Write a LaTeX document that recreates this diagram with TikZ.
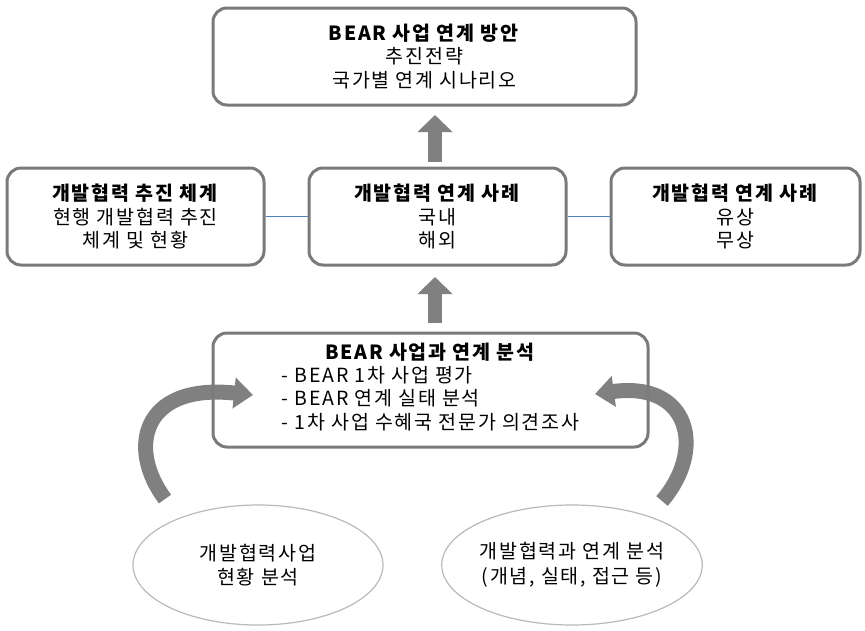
\documentclass[tikz,border=0pt]{standalone}
\usepackage{fontspec}
\setmainfont{Noto Sans CJK KR}[LetterSpace=9]
\usetikzlibrary{arrows.meta,shapes.geometric}
\definecolor{boxgray}{RGB}{122,122,122}
\definecolor{arrgray}{RGB}{128,128,128}
\definecolor{ellgray}{RGB}{185,185,185}
\definecolor{linkblue}{RGB}{79,129,189}
\tikzset{
  rbox/.style={draw=boxgray, line width=3pt, rounded corners=14pt, align=center,
    inner sep=0pt, font=\fontsize{19.5}{23.5}\selectfont},
  ebox/.style={draw=ellgray, line width=1.2pt, ellipse, align=center, inner sep=0pt,
    font=\fontsize{19.5}{24.5}\selectfont},
  link/.style={draw=linkblue, line width=1pt},
  blockarrow/.style={draw=arrgray, line width=14pt,
    -{Triangle[length=17pt,width=34pt]}},
  curvearrow/.style={draw=arrgray, line width=15pt,
    -{Triangle[length=19pt,width=30pt]}},
}
\begin{document}
\begin{tikzpicture}[x=1pt,y=-1pt]
\useasboundingbox (0,0) rectangle (865,630);
% curved arrows (behind the box border)
\coordinate (la0) at (165,499);
\coordinate (la1) at (253,395);
\coordinate (ra0) at (662,501);
\coordinate (ra1) at (595,394);
\draw[curvearrow] (la0) .. controls (128,450) and (140,383) .. (la1);
\draw[curvearrow] (ra0) .. controls (706,450) and (690,381) .. (ra1);
% boxes
\node[rbox, minimum width=423pt, minimum height=97pt] (top) at (424.5,56.5)
  {\textbf{BEAR 사업 연계 방안}\\추진전략\\국가별 연계 시나리오};
\node[rbox, minimum width=257pt, minimum height=97pt] (lm) at (135.5,216.5)
  {\textbf{개발협력 추진 체계}\\현행 개발협력 추진\\체계 및 현황};
\node[rbox, minimum width=257pt, minimum height=97pt] (cm) at (437.5,216.5)
  {\textbf{개발협력 연계 사례}\\국내\\해외};
\node[rbox, minimum width=249pt, minimum height=97pt] (rm) at (735.5,216.5)
  {\textbf{개발협력 연계 사례}\\유상\\무상};
\node[rbox, minimum width=435pt, minimum height=114pt] (bot) at (430.5,390)
  {\textbf{BEAR 사업과 연계 분석}\\[-1pt]
   \begin{tabular}[t]{@{}l@{}}- BEAR 1차 사업 평가\\- BEAR 연계 실태 분석\\- 1차 사업 수혜국 전문가 의견조사\end{tabular}};
\node[ebox, minimum width=250pt, minimum height=120pt] (el) at (258,565)
  {개발협력사업\\현황 분석};
\node[ebox, minimum width=250pt, minimum height=120pt] (er) at (572,565)
  {개발협력과 연계 분석\\(개념, 실태, 접근 등)};
% links
\draw[link] (lm.east) -- (cm.west);
\draw[link] (cm.east) -- (rm.west);
% block arrows
\coordinate (ax) at (435,0);
\draw[blockarrow, shorten <=4.5pt, shorten >=8.5pt] (cm.north -| ax) -- (top.south -| ax);
\draw[blockarrow, shorten <=8.5pt, shorten >=10.5pt] (bot.north -| ax) -- (cm.south -| ax);
\end{tikzpicture}
\end{document}
